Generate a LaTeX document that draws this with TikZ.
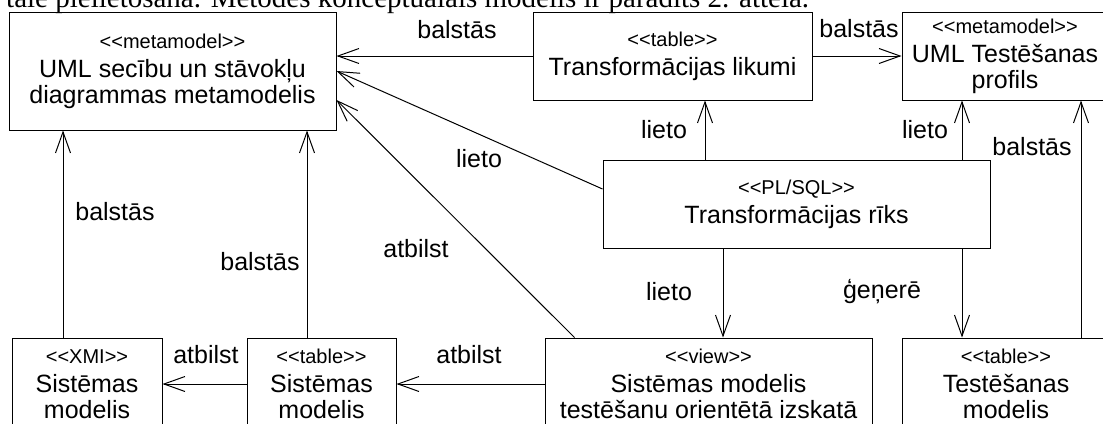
\documentclass[tikz,border=0pt]{standalone}
\usepackage{fontspec}
\setmainfont{Liberation Sans}
\newfontfamily\bodyserif{Liberation Serif}
\usetikzlibrary{arrows.meta}

% stereotype line on top of a box
\newcommand{\stereo}[1]{{\fontsize{20}{21}\selectfont
  <\kern0pt<#1>\kern0pt>}\\[3pt]}

\tikzset{
  umlbox/.style={draw, line width=1pt, inner sep=0pt, align=center,
    font=\fontsize{25}{26}\selectfont},
  lbl/.style={inner sep=0pt, anchor=base, font=\fontsize{25}{26}\selectfont},
  uarr/.style={line width=1pt, -{Straight Barb[length=21pt,width=15pt,line width=1pt]}},
}

\begin{document}
\begin{tikzpicture}[x=1pt,y=-1pt]
  \useasboundingbox (0,0) rectangle (1103,423);
  \clip (0,0) rectangle (1103,423);
  % body text line, cut by the top edge
  \node[anchor=base west, inner sep=0pt, font=\bodyserif\fontsize{29}{31}\selectfont]
    (bodyline) at (6,7) {tāle pielietošana. Metodes konceptuālais modelis ir parādīts 2. attēlā.};
  % upper row
  \node[umlbox, minimum width=327pt, minimum height=118pt] (meta) at (172.5,71)
    {\stereo{metamodel}UML secību un stāvokļu\\diagrammas metamodelis};
  \node[umlbox, minimum width=279pt, minimum height=88pt] (rules) at (672.5,56)
    {\stereo{table}Transformācijas likumi};
  \node[umlbox, minimum width=206pt, minimum height=88pt] (profile) at (1005,56)
    {\stereo{metamodel}UML Testēšanas\\profils};
  % middle
  \node[umlbox, minimum width=387pt, minimum height=88pt] (tool) at (796.5,204)
    {\stereo{PL/SQL}Transformācijas rīks};
  % lower row
  \node[umlbox, minimum width=150pt, minimum height=92pt] (xmi) at (87,384)
    {\stereo{XMI}Sistēmas\\modelis};
  \node[umlbox, minimum width=149pt, minimum height=92pt] (systab) at (321.5,384)
    {\stereo{table}Sistēmas\\modelis};
  \node[umlbox, minimum width=327pt, minimum height=92pt] (view) at (708.5,384)
    {\stereo{view}Sistēmas modelis\\testēšanu orientētā izskatā};
  \node[umlbox, minimum width=208pt, minimum height=92pt] (testmod) at (1006,384)
    {\stereo{table}Testēšanas\\modelis};
  % columns of the vertical connectors
  \coordinate (cE) at (63,0);
  \coordinate (cF) at (307,0);
  \coordinate (cB) at (705,0);
  \coordinate (cG) at (723,0);
  \coordinate (cC) at (962,0);
  \coordinate (cH) at (1081,0);
  % connectors
  \draw[uarr] (rules.west) -- (meta.east |- rules.west);
  \draw[uarr] (rules.east) -- (profile.west);
  \draw[uarr] ([yshift=15pt]tool.west) -- (meta.east);
  \draw[uarr] (cB |- tool.north) -- (cB |- rules.south);
  \draw[uarr] (cC |- tool.north) -- (cC |- profile.south);
  \draw[uarr] (cH |- testmod.north) -- (cH |- profile.south);
  \draw[uarr] (cG |- tool.south) -- (cG |- view.north);
  \draw[uarr] (cC |- tool.south) -- (cC |- testmod.north);
  \draw[uarr] ([xshift=30pt]view.north west) -- ([yshift=-29pt]meta.east);
  \draw[uarr] (cE |- xmi.north) -- (cE |- meta.south);
  \draw[uarr] (cF |- systab.north) -- (cF |- meta.south);
  \draw[uarr] (systab.west) -- (xmi.east |- systab.west);
  \draw[uarr] (view.west) -- (systab.east |- view.west);
  % labels
  \node[lbl] (l-ra) at (457,38) {balstās};
  \node[lbl] (l-rp) at (859,37) {balstās};
  \node[lbl] (l-tm) at (479,167) {lieto};
  \node[lbl] (l-tr) at (664,138) {lieto};
  \node[lbl] (l-tp) at (925,138) {lieto};
  \node[lbl] (l-hp) at (1032,155) {balstās};
  \node[lbl] (l-tv) at (669,300) {lieto};
  \node[lbl] (l-th) at (882,298) {ģeņerē};
  \node[lbl] (l-vm) at (416,257) {atbilst};
  \node[lbl] (l-xm) at (115,220) {balstās};
  \node[lbl] (l-sm) at (260,270) {balstās};
  \node[lbl] (l-sx) at (206,363) {atbilst};
  \node[lbl] (l-vs) at (469,363) {atbilst};
\end{tikzpicture}
\end{document}
